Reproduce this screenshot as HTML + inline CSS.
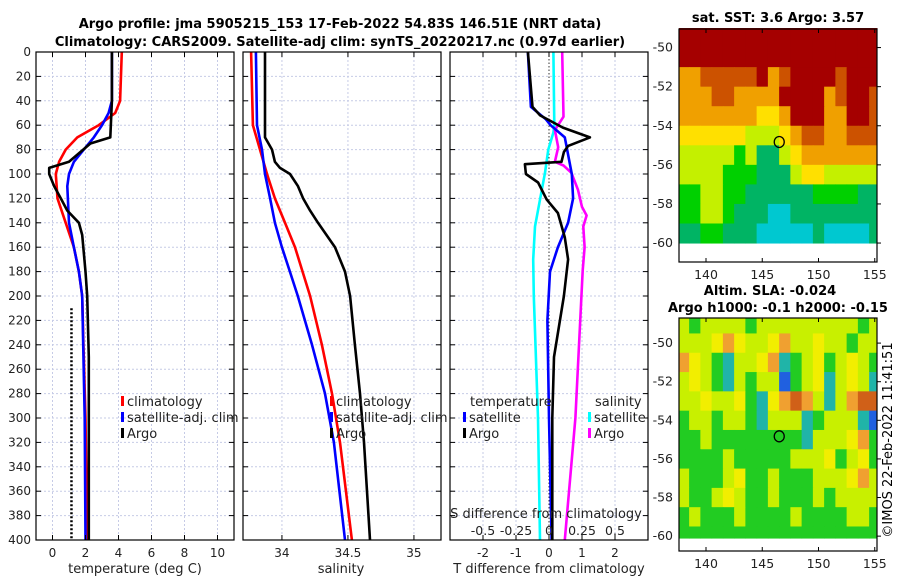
<!DOCTYPE html>
<html><head><meta charset="utf-8"><style>
html,body{margin:0;padding:0;background:#fff;}
svg{display:block;font-family:"DejaVu Sans","Liberation Sans",sans-serif;}
</style></head><body>
<svg id="fig" width="900" height="580" viewBox="0 0 900 580" xmlns="http://www.w3.org/2000/svg">
<text x="340" y="28" font-size="13" font-weight="bold" text-anchor="middle">Argo profile: jma 5905215_153 17-Feb-2022 54.83S 146.51E (NRT data)</text>
<text x="340" y="46" font-size="13" font-weight="bold" text-anchor="middle">Climatology: CARS2009. Satellite-adj clim: synTS_20220217.nc (0.97d earlier)</text>
<text x="778" y="22" font-size="13" font-weight="bold" text-anchor="middle">sat. SST: 3.6 Argo: 3.57</text>
<text x="770" y="295" font-size="13" font-weight="bold" text-anchor="middle">Altim. SLA: -0.024</text>
<text x="778" y="312" font-size="13" font-weight="bold" text-anchor="middle">Argo h1000: -0.1 h2000: -0.15</text>
<text transform="translate(892,440) rotate(-90)" font-size="13" text-anchor="middle">©IMOS 22-Feb-2022 11:41:51</text>
<g id="panels"></g>
</svg>
<script>
// ---- data ----
const depthTicks = [0,20,40,60,80,100,120,140,160,180,200,220,240,260,280,300,320,340,360,380,400];
const tempTicks = [0,2,4,6,8,10];
const salTicks = [34,34.5,35];
const tdiffTicks = [-2,-1,0,1,2];
const sdiffTicks = [-0.5,-0.25,0,0.25,0.5];
const sdiffTickLabels = ["-0.5","-0.25","0","0.25","0.5"];

const tClimDepth = [0,40,50,60,70,80,90,100,120,140,160,180,200,250,300,400];
const tClim      = [4.2,4.1,3.8,2.8,1.5,0.8,0.4,0.2,0.3,0.8,1.3,1.6,1.8,1.9,2.0,2.1];
const tSatDepth  = [0,40,50,60,70,80,90,100,110,140,160,180,200,300,400];
const tSat       = [3.6,3.6,3.4,3.0,2.5,1.9,1.3,1.0,0.9,1.0,1.3,1.6,1.8,1.95,2.0];
const tArgoDepth = [0,40,70,75,90,95,100,110,120,130,140,150,180,200,250,400];
const tArgo      = [3.6,3.6,3.5,2.3,1.0,-0.2,-0.2,0.1,0.5,0.9,1.6,1.8,2.0,2.1,2.2,2.2];
const mldTemp = 1.15, mldTop = 210;

const sClimDepth = [0,60,80,100,120,140,160,200,240,280,320,400];
const sClim      = [33.766,33.78,33.834,33.887,33.947,34.023,34.099,34.213,34.303,34.379,34.44,34.53];
const sSatDepth  = [0,60,80,100,120,140,160,180,200,240,280,320,400];
const sSat       = [33.803,33.811,33.849,33.872,33.91,33.947,34.0,34.06,34.12,34.228,34.326,34.394,34.478];
const sArgoDepth = [0,60,70,80,90,95,100,110,120,130,140,160,180,200,240,280,320,400];
const sArgo      = [33.872,33.872,33.872,33.925,33.947,33.985,34.061,34.122,34.16,34.213,34.273,34.402,34.478,34.516,34.553,34.591,34.622,34.667];

const dtSatDepth  = [0,20,45,55,60,70,100,120,140,160,180,220,300,400];
const dtSat       = [-0.64,-0.6,-0.55,-0.1,0.05,0.48,0.69,0.73,0.58,0.27,0.03,-0.05,0.0,0.08];
const dtArgoDepth = [0,45,52,62,70,77,82,90,92,100,107,121,132,152,170,200,250,300,400];
const dtArgo      = [-0.64,-0.5,-0.27,0.42,1.24,0.58,0.45,0.38,-0.73,-0.7,-0.33,-0.07,0.27,0.48,0.58,0.45,0.15,0.1,0.1];
const dsSatDepth  = [0,60,66,80,99,121,143,170,200,300,400];
const dsSat       = [0.033,0.04,0.033,-0.005,-0.03,-0.068,-0.106,-0.12,-0.115,-0.083,-0.068];
const dsArgoDepth = [0,53,64,78,90,93,99,113,127,134,143,160,179,300,400];
const dsArgo      = [0.10,0.11,0.045,0.07,0.045,0.11,0.17,0.22,0.25,0.285,0.26,0.27,0.255,0.2,0.12];

// maps: rows from north to south (1 deg lat), columns lon 138..155
const sstLatTop = [-49,-50,-51,-52,-53,-54,-55,-56,-57,-58,-59];
const sstRows = [
"RRRRRRRRRRRRRRRRRR",
"RRRRRRRRRRRRRRRRRR",
"OOBBBBBROBRRRRBRRR",
"OOOBBOOOORRRROBRRB",
"OOOOOOOYYORRROORRB",
"YYYYYYLLLYOBBOOBBB",
"LLLLLGLggLYOOOOOOO",
"LLLLGGGgggLYYLLLLL",
"GGLLGGggggggGGGGgg",
"GGLLGgggCCgggggggg",
"ggGGgggCCCCCgCCCCg"];
const slaLatTop = [-48.7,-49.5,-50.5,-51.5,-52.5,-53.5,-54.5,-55.5,-56.5,-57.5,-58.5,-59.5];
const slaLatBot = [-49.5,-50.5,-51.5,-52.5,-53.5,-54.5,-55.5,-56.5,-57.5,-58.5,-59.5,-60.1];
const slaRows = [
"LGLLLLGLLLLLLLLLGL",
"LLLYOYLLYOLLYLLGLL",
"OYLGCLLYOCGLYGLYLG",
"LYLGCLGLLBGLYCLYLC",
"LLYLLYGCYOROLCLORR",
"GLLGLLGCLLLCGLLLCB",
"GGLGGGGGGGGCLLLYOG",
"GGGGLGGGGGLLLYGLYG",
"LGGGLYGGLGGGLLLYOL",
"LGGLYLGGLGGGLGLLLL",
"GLGGGLGGGGLGGGGLLG",
"GGGGGGGGGGGGGGGGGG"];
const argoLon = 146.51, argoLat = -54.83;
const lonTicks = [140,145,150,155];
const latTicks = [-50,-52,-54,-56,-58,-60];

// ---- drawing ----
const NS="http://www.w3.org/2000/svg";
const root=document.getElementById('panels');
function mk(tag,attrs,parent){const e=document.createElementNS(NS,tag);for(const k in attrs)e.setAttribute(k,attrs[k]);(parent||root).appendChild(e);return e;}

const top0=52, bot0=540;
const yD = d => top0 + (d/400)*(bot0-top0);

function panel(name,x0,x1,xmin,xmax,gridVals){
  const g=mk('g',{});
  
  
  const sx=v=>x0+(v-xmin)/(xmax-xmin)*(x1-x0);
  gridVals.forEach(v=>{const l=mk('line',{x1:sx(v),x2:sx(v),y1:top0,y2:bot0,stroke:'#c6cbe6','stroke-width':1,'stroke-dasharray':'2,2'},g);
    });
  depthTicks.forEach(d=>{const l=mk('line',{x1:x0,x2:x1,y1:yD(d),y2:yD(d),stroke:'#c6cbe6','stroke-width':1,'stroke-dasharray':'2,2'},g);
    
    mk('line',{x1:x0,x2:x0+5,y1:yD(d),y2:yD(d),stroke:'#000'},g);
    mk('line',{x1:x1-5,x2:x1,y1:yD(d),y2:yD(d),stroke:'#000'},g);});
  return {g,sx};
}
function series(p,name,xs,ds,color,dash){
  const pts=xs.map((v,i)=>p.sx(v).toFixed(1)+','+yD(ds[i]).toFixed(1)).join(' ');
  const pl=mk('polyline',{points:pts,fill:'none',stroke:color,'stroke-width':2.6,'stroke-linejoin':'round'},p.g);
  if(dash)pl.setAttribute('stroke-dasharray',dash);
  
  
}
function frame(p,x0,x1){const r=mk('rect',{x:x0,y:top0,width:x1-x0,height:bot0-top0,fill:'none',stroke:'#000','stroke-width':1.2},p.g);
  }
function xTicks(p,vals,labels,y){vals.forEach((v,i)=>{
  mk('line',{x1:p.sx(v),x2:p.sx(v),y1:bot0,y2:bot0-5,stroke:'#000'},p.g);
  mk('line',{x1:p.sx(v),x2:p.sx(v),y1:top0,y2:top0+5,stroke:'#000'},p.g);
  const t=mk('text',{x:p.sx(v),y:y,'font-size':12,'text-anchor':'middle',fill:'#222'},p.g);t.textContent=labels[i];
  });}
function label(p,txt,x,y,name,anchor){const t=mk('text',{x:x,y:y,'font-size':13,'text-anchor':anchor||'middle',fill:'#222'},p.g);t.textContent=txt;
  return t;}
function legend(p,x,y,color,txt){mk('rect',{x:x,y:y-10,width:3,height:10,fill:color},p.g);
  const t=mk('text',{x:x+6,y:y,'font-size':13,fill:'#222'},p.g);t.textContent=txt;
  }

// Panel 1: temperature
const p1=panel('temperature-panel',36,234,-1,11,tempTicks);
depthTicks.forEach(d=>{const t=mk('text',{x:31,y:yD(d)+4,'font-size':12,'text-anchor':'end',fill:'#222'},p1.g);t.textContent=d;
  });
series(p1,'temp-climatology-line',tClim,tClimDepth,'#ff0000');
series(p1,'temp-satellite-line',tSat,tSatDepth,'#0000ff');
series(p1,'temp-argo-line',tArgo,tArgoDepth,'#000000');
{const l=mk('line',{x1:p1.sx(mldTemp),x2:p1.sx(mldTemp),y1:yD(mldTop),y2:yD(400),stroke:'#000','stroke-width':2.5,'stroke-dasharray':'2,2'},p1.g);
 }
frame(p1,36,234);
xTicks(p1,tempTicks,tempTicks.map(String),557);
label(p1,'temperature (deg C)',135,573,'x-axis-title-temperature');
legend(p1,121,406,'#ff0000','climatology');
legend(p1,121,422,'#0000ff','satellite-adj. clim');
legend(p1,121,438,'#000000','Argo');

// Panel 2: salinity
const p2=panel('salinity-panel',243,441,33.705,35.205,salTicks);
series(p2,'sal-climatology-line',sClim,sClimDepth,'#ff0000');
series(p2,'sal-satellite-line',sSat,sSatDepth,'#0000ff');
series(p2,'sal-argo-line',sArgo,sArgoDepth,'#000000');
frame(p2,243,441);
xTicks(p2,salTicks,['34','34.5','35'],557);
label(p2,'salinity',341,573,'x-axis-title-salinity');
legend(p2,330,406,'#ff0000','climatology');
legend(p2,330,422,'#0000ff','satellite-adj. clim');
legend(p2,330,438,'#000000','Argo');

// Panel 3: differences
const p3=panel('difference-panel',450,648,-3,3,tdiffTicks.filter(v=>v!==0));
const ps={g:p3.g,sx:v=>549+v*132};
{const l=mk('line',{x1:p3.sx(0),x2:p3.sx(0),y1:top0,y2:bot0,stroke:'#333','stroke-width':1,'stroke-dasharray':'1.5,2'},p3.g);
 }
series(ps,'sdiff-satellite-line',dsSat,dsSatDepth,'#00ffff');
series(ps,'sdiff-argo-line',dsArgo,dsArgoDepth,'#ff00ff');
series(p3,'tdiff-satellite-line',dtSat,dtSatDepth,'#0000ff');
series(p3,'tdiff-argo-line',dtArgo,dtArgoDepth,'#000000');
frame(p3,450,648);
xTicks(p3,tdiffTicks,tdiffTicks.map(String),557);
label(p3,'T difference from climatology',549,573,'x-axis-title-tdiff');
label(p3,'S difference from climatology',546,518,'s-axis-title');
sdiffTicks.forEach((v,i)=>{const t=mk('text',{x:ps.sx(v),y:535,'font-size':12.5,'text-anchor':'middle',fill:'#222'},p3.g);t.textContent=sdiffTickLabels[i];
  });
label(p3,'temperature',470,406,'legend-title-temperature','start');
legend(p3,463,422,'#0000ff','satellite');
legend(p3,463,438,'#000000','Argo');
label(p3,'salinity',595,406,'legend-title-salinity','start');
legend(p3,588,422,'#00ffff','satellite');
legend(p3,588,438,'#ff00ff','Argo');

// Maps
const sstPal={R:'#a50000',B:'#cc5200',O:'#f0a000',Y:'#ffe000',L:'#c4f000',G:'#00d000',g:'#00b464',C:'#00c8d0'};
const slaPal={L:'#c8f000',Y:'#f2ee00',O:'#f0a030',R:'#d06018',G:'#22cc22',g:'#10b040',C:'#20b4a8',B:'#2060e0'};
function map(name,x0,x1,y0,y1,latN,latS,rowsTop,rowsBot,rows,pal){
  const g=mk('g',{});
  
  
  const lonW=137.6, lonE=155.2;
  const sx=v=>x0+(v-lonW)/(lonE-lonW)*(x1-x0);
  const sy=v=>y0+(latN-v)/(latN-latS)*(y1-y0);
  rows.forEach((r,i)=>{for(let j=0;j<r.length;j++){
    const lo=Math.max(lonW,138+j-0.5), hi=Math.min(lonE,138+j+0.5);
    const ya=sy(rowsTop[i]), yb=sy(rowsBot[i]);
    const c=mk('rect',{x:sx(lo),y:ya,width:sx(hi)-sx(lo)+0.5,height:yb-ya+0.5,fill:pal[r[j]]},g);
    
    }});
  const ci=mk('ellipse',{cx:sx(argoLon),cy:sy(argoLat),rx:5,ry:5.5,fill:'none',stroke:'#000','stroke-width':1.3},g);
  
  const fr=mk('rect',{x:x0,y:y0,width:x1-x0,height:y1-y0,fill:'none',stroke:'#000','stroke-width':1.2},g);
  
  lonTicks.forEach(v=>{mk('line',{x1:sx(v),x2:sx(v),y1:y1,y2:y1-4,stroke:'#000'},g);mk('line',{x1:sx(v),x2:sx(v),y1:y0,y2:y0+4,stroke:'#000'},g);
    const t=mk('text',{x:sx(v),y:y1+17,'font-size':12.5,'text-anchor':'middle',fill:'#222'},g);t.textContent=v;
    });
  latTicks.forEach(v=>{mk('line',{x1:x1,x2:x1+4,y1:sy(v),y2:sy(v),stroke:'#000'},g);
    const t=mk('text',{x:x0-6,y:sy(v)+4,'font-size':12.5,'text-anchor':'end',fill:'#222'},g);t.textContent=v;
    });
}
map('sst-map',679,877,29,262,-49.05,-60.97,sstLatTop,sstLatTop.map(v=>Math.max(v-1,-60.1)),sstRows,sstPal);
map('sla-map',679,877,318,551,-48.7,-60.77,slaLatTop,slaLatBot,slaRows,slaPal);
</script>
</body></html>
